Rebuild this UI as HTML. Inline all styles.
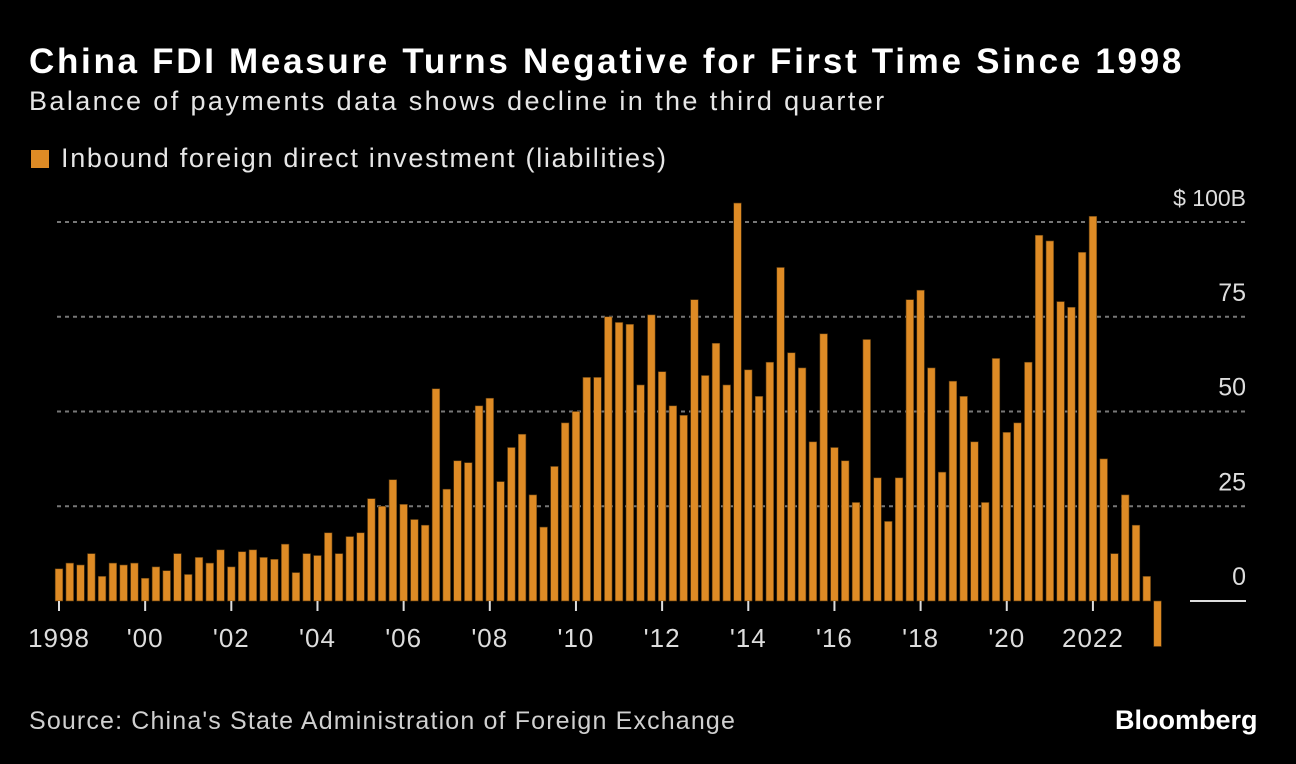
<!DOCTYPE html>
<html><head><meta charset="utf-8"><style>
body{margin:0;background:#000;width:1296px;height:764px;overflow:hidden;font-family:"Liberation Sans",sans-serif;color:#fff}
.t{position:absolute;white-space:nowrap}
</style></head><body>
<div class="t" style="left:29px;top:42px;font-size:35px;font-weight:bold;letter-spacing:2.7px">China FDI Measure Turns Negative for First Time Since 1998</div>
<div class="t" style="left:29px;top:86px;font-size:27px;color:#e6e6e6;letter-spacing:2.4px">Balance of payments data shows decline in the third quarter</div>
<div class="t" style="left:31px;top:143px;font-size:27px;color:#e6e6e6;letter-spacing:1.7px"><span style="display:inline-block;width:18px;height:18px;background:#de8b25;margin-right:12px;vertical-align:-1px"></span>Inbound foreign direct investment (liabilities)</div>
<svg id="c" width="1296" height="764" style="position:absolute;left:0;top:0"></svg>
<div class="t" style="left:29px;top:707px;font-size:25px;color:#d0d0d0;letter-spacing:1.15px">Source: China's State Administration of Foreign Exchange</div>
<div class="t" style="left:1115px;top:705px;font-size:27px;font-weight:bold;letter-spacing:0px">Bloomberg</div>
<script>
const values=[8.5,10,9.5,12.5, 6.5,10,9.5,10, 6,9,8,12.5, 7,11.5,10,13.5, 9,13,13.5,11.5, 11,15,7.5,12.5, 12,18,12.5,17, 18,27,25,32, 25.5,21.5,20,56, 29.5,37,36.5,51.5, 53.5,31.5,40.5,44, 28,19.5,35.5,47, 50,59,59,75, 73.5,73,57,75.5, 60.5,51.5,49,79.5, 59.5,68,57,105, 61,54,63,88, 65.5,61.5,42,70.5, 40.5,37,26,69, 32.5,21,32.5,79.5, 82,61.5,34,58, 54,42,26,64, 44.5,47,63,96.5, 95,79,77.5,92, 101.5,37.5,12.5,28, 20,6.5,-12];
const yTicks=[0,25,50,75,100];
const yTickLabels=["0","25","50","75","$ 100B"];
const xTickYears=[1998,2000,2002,2004,2006,2008,2010,2012,2014,2016,2018,2020,2022];
const xTickLabels=["1998","'00","'02","'04","'06","'08","'10","'12","'14","'16","'18","'20","2022"];
const svg=document.getElementById('c');const NS='http://www.w3.org/2000/svg';
const y=v=>601-v*3.79;
const x=i=>59+i*10.77;
const xYear=yr=>x((yr-1998)*4);
function mk(t,a){const e=document.createElementNS(NS,t);for(const k in a)e.setAttribute(k,a[k]);svg.appendChild(e);return e;}
yTicks.forEach((v,i)=>{
 if(v!==0){const g=mk('line',{x1:57,x2:1245,y1:y(v),y2:y(v),stroke:'#777','stroke-width':2,'stroke-dasharray':'4,4'});
 
 }
 const t=mk('text',{x:1246,y:y(v)-16,'text-anchor':'end','font-size':v===100?23:25,fill:'#ddd','font-family':'Liberation Sans'});
 t.textContent=yTickLabels[i];
 
 
});
const z=mk('line',{x1:1190,x2:1246,y1:601,y2:601,stroke:'#ddd','stroke-width':2});


values.forEach((v,i)=>{
 const top=Math.min(y(v),y(0)),h=Math.abs(y(v)-y(0));
 const r=mk('rect',{x:x(i)-3.8,y:top,width:7.6,height:h,fill:'#de8b25',stroke:'#5a3a10','stroke-width':0.6});
 
 
});
xTickYears.forEach((yr,i)=>{
 const l=mk('line',{x1:xYear(yr),x2:xYear(yr),y1:601,y2:611,stroke:'#ddd','stroke-width':2});
 
 
 const t=mk('text',{x:xYear(yr),y:647,'text-anchor':'middle','font-size':26,fill:'#ddd','font-family':'Liberation Sans','letter-spacing':1});
 t.textContent=xTickLabels[i];
 
 
});
</script>
</body></html>
